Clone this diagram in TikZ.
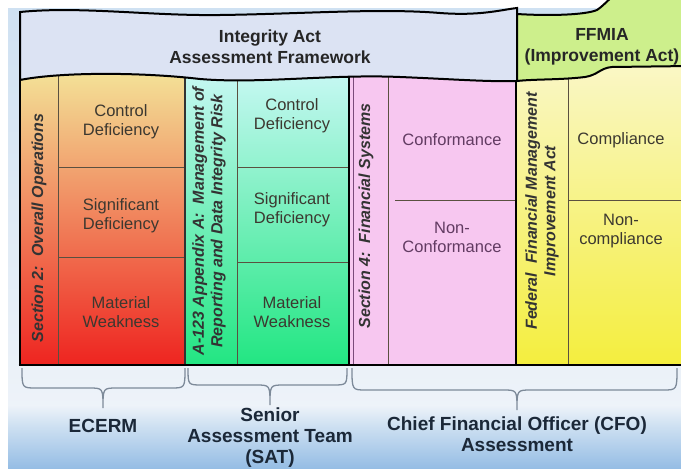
\documentclass[tikz,border=0pt]{standalone}
\usepackage{fontspec}
\setmainfont{Liberation Sans}
\usetikzlibrary{positioning}
\definecolor{bgtop}{HTML}{CFE1F2}
\definecolor{bgmid}{HTML}{EEF3F9}
\definecolor{bgbot}{HTML}{94BCE4}
\definecolor{headblue}{HTML}{DCE3F3}
\definecolor{headgreen}{HTML}{CDEF8C}
\definecolor{redtop}{HTML}{F3E398}
\definecolor{redmid}{HTML}{F6BC86}
\definecolor{redbot}{HTML}{EE2420}
\definecolor{greentop}{HTML}{C8F8F4}
\definecolor{greenmid}{HTML}{8CF0CC}
\definecolor{greenbot}{HTML}{22E682}
\definecolor{pinkcol}{HTML}{F7C7F0}
\definecolor{yellowtop}{HTML}{FAF7C8}
\definecolor{yellowbot}{HTML}{F4EE3E}
\definecolor{rulegray}{HTML}{5A5040}
\definecolor{rulepurple}{HTML}{7A4A7A}
\definecolor{bracegray}{HTML}{7D8A99}
\definecolor{celltext}{HTML}{3C3830}
\definecolor{foottext}{HTML}{1B2838}

\begin{document}
\begin{tikzpicture}[x=1pt,y=-1pt,
  cell/.style={align=center,font=\fontsize{16.5}{19}\selectfont,text=celltext},
  side/.style={rotate=90,align=center,font=\fontsize{16}{18.5}\selectfont\bfseries\itshape,text=black!80},
  head/.style={align=center,font=\fontsize{17.5}{21}\selectfont\bfseries,text=black!85},
  foot/.style={align=center,font=\fontsize{19}{21}\selectfont\bfseries,text=foottext},
  thinrule/.style={line width=0.9pt,draw=rulegray},
  thickrule/.style={line width=2.6pt,draw=black},
  bracepath/.style={line width=1.3pt,draw=bracegray}]
	\useasboundingbox (0,0) rectangle (681,469);
	% background
	\fill[white] (0,0) rectangle (681,469);
	\shade[top color=bgtop, bottom color=bgmid] (8,8) rectangle (681,412);
	\shade[top color=bgmid, middle color=white, bottom color=bgtop] (8,405) rectangle (681,425);
	\shade[top color=bgtop, bottom color=bgbot] (8,425) rectangle (681,469);
	% column fills
	\shade[top color=redtop, middle color=redmid, bottom color=redbot] (20,70) rectangle (185,365);
	\shade[top color=greentop, middle color=greenmid, bottom color=greenbot] (185,70) rectangle (349,365);
	\fill[pinkcol] (349,70) rectangle (516,365);
	\shade[top color=yellowtop, bottom color=yellowbot] (516,60) rectangle (681,365);
	% cell rules
	\draw[thinrule] (58,75) -- (58,365) (58,167) -- (185,167) (58,257) -- (185,257);
	\draw[thinrule] (237,75) -- (237,365) (237,167) -- (349,167) (237,262) -- (349,262);
	\draw[thinrule] (388,75) -- (388,365) (395,200) -- (516,200);
	\draw[thinrule] (568,70) -- (568,365) (568,200) -- (681,200);
	\draw[line width=0.8pt,draw=rulepurple] (353,75) -- (353,365);
	\draw[line width=1.6pt,draw=black!80] (185,75) -- (185,365);
	\draw[line width=2pt] (20,75) -- (20,365);
	\draw[thickrule] (349,75) -- (349,365) (516,75) -- (516,365);
	\draw[thickrule] (18.7,365) -- (681,365);
	% header boxes
	\draw[line width=2pt, fill=headblue] (20,12) .. controls (80,6) and (150,16) .. (220,15)
	  .. controls (300,14) and (380,8) .. (440,13) .. controls (480,16) and (500,10) .. (517,8)
	  -- (517,81) .. controls (490,82) and (450,79) .. (400,77)
	  .. controls (330,74) and (260,84) .. (200,79) .. controls (140,72) and (60,72) .. (20,80) -- cycle;
	\draw[line width=2pt, fill=headgreen] (517,14) .. controls (550,16) and (585,15) .. (597,10)
	  .. controls (603,6) and (606,2) .. (612,-3) -- (690,-3) -- (690,66) -- (612,67)
	  .. controls (600,68) and (598,75) .. (585,77) .. controls (560,80) and (535,79) .. (517,81) -- cycle;
	\node[head] (integ) at (270,47) {Integrity Act\\Assessment Framework};
	\node[head] (ffmia) at (602,47) {FFMIA\\(Improvement Act)};
	% column texts
	\node[side] (secA) at (39,228) {Section 2:\ \ Overall Operations};
	\node[cell] (ctrlA) at (121,122) {Control\\Deficiency};
	\node[cell] (sigA) at (121,216) {Significant\\Deficiency};
	\node[cell] (matA) at (121,312) {Material\\Weakness};
	\node[side] (appB) at (209,221) {A-123 Appendix A:\ \ Management of\\Reporting and Data Integrity Risk};
	\node[cell] (ctrlB) at (292,116) {Control\\Deficiency};
	\node[cell] (sigB) at (292,210) {Significant\\Deficiency};
	\node[cell] (matB) at (292,312) {Material\\Weakness};
	\node[side] (secC) at (366,216) {Section 4:\ \ Financial Systems};
	\node[cell, text=rulepurple!80!black] (confC) at (452,140) {Conformance};
	\node[cell, text=rulepurple!80!black] (nonC) at (452,237) {Non-\\Conformance};
	\node[side, align=center] (ffmD) at (542,211) {Federal\ \ Financial Management\\Improvement Act};
	\node[cell] (compD) at (621,140) {Compliance};
	\node[cell] (noncD) at (621,231) {Non-\\compliance};
	% braces under the columns
	\foreach \l/\m/\r/\t [count=\i] in {22/103/185/408, 188/270/347/405, 352/517/677/410} {
		\draw[bracepath] (\l,368) .. controls (\l,\t-20) .. (\l+14,\t-20) -- (\m-14,\t-20)
		  .. controls (\m,\t-20) .. (\m,\t) .. controls (\m,\t-20) .. (\m+14,\t-20)
		  -- (\r-14,\t-20) .. controls (\r,\t-20) .. (\r,368);
		\coordinate (tip\i) at (\m,\t);
	}
	% group labels
	\node[foot, below=8pt of tip1] (ecerm) {ECERM};
	\node[foot, below=-1pt of tip2] (sat) {Senior\\Assessment Team\\(SAT)};
	\node[foot, below=3pt of tip3] (cfo) {Chief Financial Officer (CFO)\\Assessment};
\end{tikzpicture}
\end{document}
